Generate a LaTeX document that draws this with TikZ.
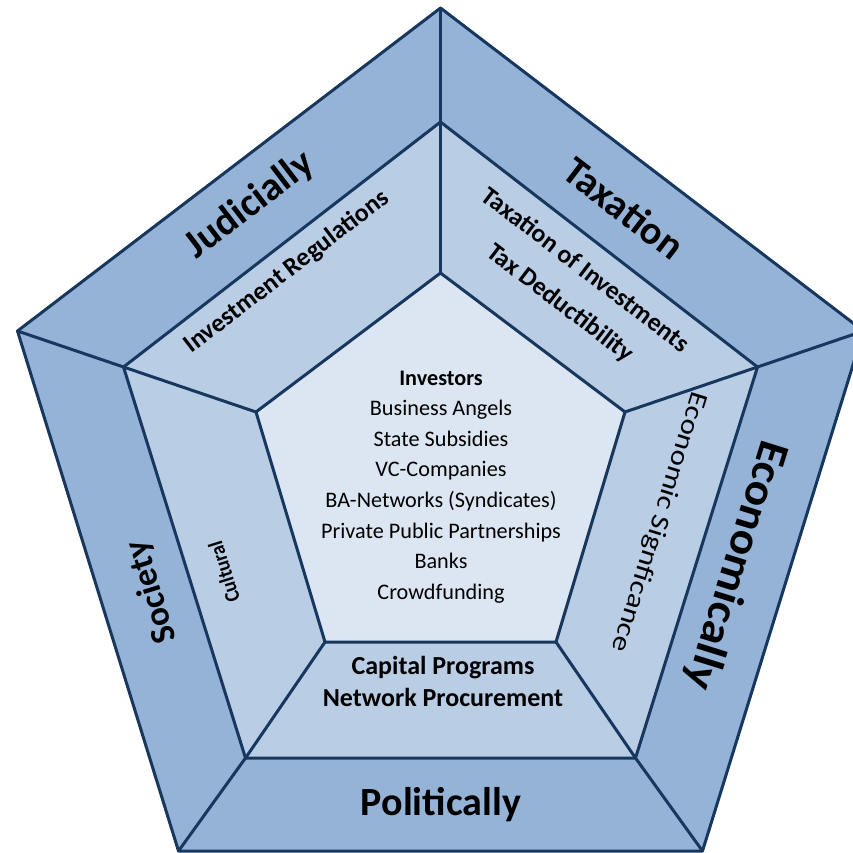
\documentclass[tikz,border=0pt]{standalone}
\usepackage{fontspec}
\setmainfont{Carlito}
\definecolor{edgec}{RGB}{23,55,94}
\definecolor{outerc}{RGB}{149,179,215}
\definecolor{midc}{RGB}{185,205,229}
\definecolor{innerc}{RGB}{220,230,242}
\begin{document}
\begin{tikzpicture}[x=1pt,y=-1pt,
  band/.style={draw=edgec,line width=3pt,line join=round},
  spoke/.style={draw=edgec,line width=3pt,line cap=round},
  biglabel/.style={font=\fontsize{40}{44}\selectfont\bfseries,inner sep=0pt},
  midlabel/.style={font=\fontsize{25.7}{41}\selectfont\bfseries,inner sep=0pt,align=center},
  midlabelr/.style={font=\fontsize{26}{30}\selectfont,inner sep=0pt,align=center},
  innerlabel/.style={font=\fontsize{22.2}{30.6}\selectfont,inner sep=0pt,align=center}]
\useasboundingbox (0,0) rectangle (853,853);
\clip (0,0) rectangle (853,853);
% vertices
\coordinate (oT) at (440.5,8);
\coordinate (oL) at (17.5,331);
\coordinate (oR) at (863.5,331);
\coordinate (oBL) at (178.5,851);
\coordinate (oBR) at (702.5,851);
\coordinate (mT) at (440.5,122);
\coordinate (mL) at (123.5,367);
\coordinate (mR) at (757.5,367);
\coordinate (mBL) at (245.5,758);
\coordinate (mBR) at (635.5,758);
\coordinate (iT) at (440.5,273);
\coordinate (iL) at (256,412);
\coordinate (iR) at (625,412);
\coordinate (iBL) at (325,642);
\coordinate (iBR) at (556,642);
% bands
\path[band,fill=outerc] (oT) -- (oR) -- (oBR) -- (oBL) -- (oL) -- cycle;
\path[band,fill=midc] (mT) -- (mR) -- (mBR) -- (mBL) -- (mL) -- cycle;
\path[band,fill=innerc] (iT) -- (iR) -- (iBR) -- (iBL) -- (iL) -- cycle;
% spokes
\draw[spoke] (oT) -- (mT) -- (iT);
\draw[spoke] (oL) -- (mL) -- (iL);
\draw[spoke] (oR) -- (mR) -- (iR);
\draw[spoke] (oBL) -- (mBL) -- (iBL);
\draw[spoke] (oBR) -- (mBR) -- (iBR);
% outer labels
\node[biglabel,rotate=37.4] (jud) at (250,205) {Judicially};
\node[biglabel,rotate=-37.4] (tax) at (624,208) {Taxation};
\node[biglabel,rotate=107.3,font=\fontsize{35}{40}\selectfont\bfseries] (soc) at (152,592) {Society};
\node[biglabel,rotate=-107.3,font=\fontsize{44}{48}\selectfont\bfseries,xscale=1.08] (eco) at (736,565) {Economically};
\node[biglabel] (pol) at (441,805) {Politically};
% middle labels
\node[midlabel,rotate=37.4] (invreg) at (287,272) {Investment Regulations};
\node[midlabel,rotate=-37.4] (taxinv) at (572.5,287) {Taxation of Investments\\Tax Deductibility};
\node[midlabel,rotate=107.3,font=\fontsize{21}{24}\selectfont\bfseries,xscale=0.92] (cult) at (224,572) {Cultural};
\node[midlabelr,rotate=-107.3,xscale=1.2] (ecosig) at (659,522) {Economic Signficance};
\node[midlabel,font=\fontsize{26}{32}\selectfont\bfseries] (cap) at (443,681) {Capital Programs\\Network Procurement};
% inner text
\node[innerlabel] (inv) at (441,487) {\textbf{Investors}\\Business Angels\\State Subsidies\\VC-Companies\\BA-Networks (Syndicates)\\Private Public Partnerships\\Banks\\Crowdfunding};
\end{tikzpicture}
\end{document}
